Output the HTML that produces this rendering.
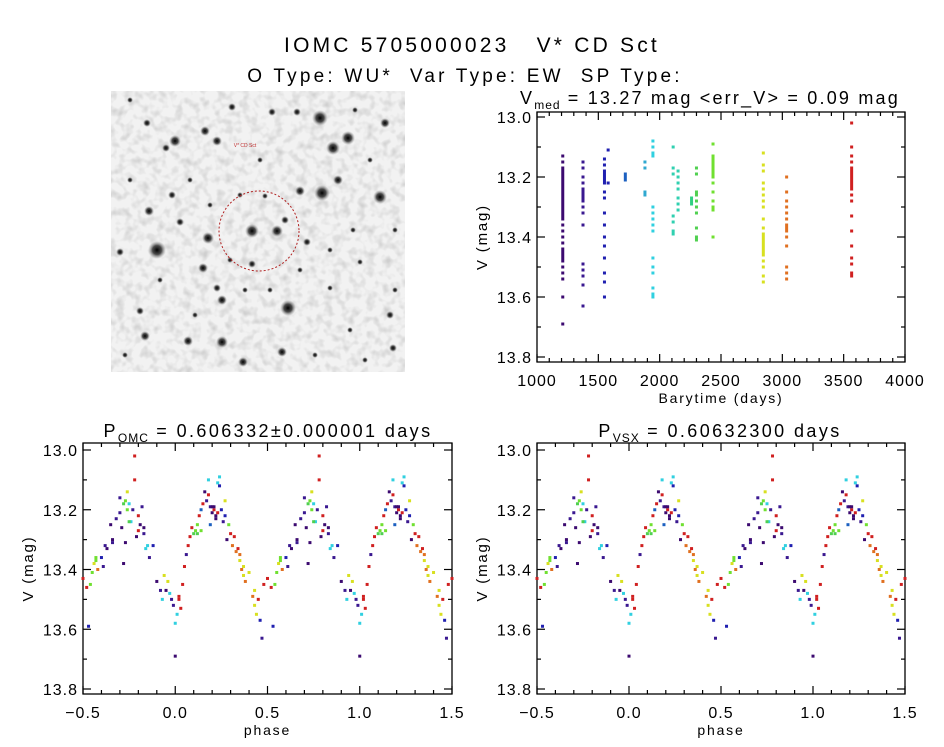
<!DOCTYPE html>
<html><head><meta charset="utf-8"><style>
html,body{margin:0;padding:0;background:#fff;}
svg{display:block;font-family:"Liberation Sans",sans-serif;}
</style></head><body>
<svg id="fig" width="944" height="747" viewBox="0 0 944 747">
<text x="472" y="52" text-anchor="middle" font-size="21" letter-spacing="3.2" xml:space="preserve">IOMC 5705000023   V* CD Sct</text>
<text x="465" y="82" text-anchor="middle" font-size="19" letter-spacing="3.2" xml:space="preserve">O Type: WU*  Var Type: EW  SP Type:</text>
<g id="sky"></g>
<g id="p1"></g>
<g id="p2"></g>
<g id="p3"></g>
</svg>
<script>
// ---- data ----
const seasonColors = ["#3c0a70","#3a1890","#2020b0","#1c60c0","#30a8d0","#30d0e0","#30d0b0","#30d080","#50d050","#70e030","#d8e020","#e07020","#d02020"];
const seasonTimes = [1210,1375,1550,1580,1720,1880,1945,2110,2150,2260,2300,2435,2845,3035,3565];
const seasonColorIdx = [0,1,2,2,3,4,5,6,6,7,8,9,10,11,12];
const seasonMags = [
 [13.13,13.15,13.17,13.18,13.19,13.20,13.21,13.22,13.23,13.24,13.25,13.26,13.27,13.28,13.29,13.30,13.31,13.32,13.33,13.34,13.36,13.38,13.40,13.42,13.44,13.45,13.46,13.47,13.48,13.50,13.52,13.54,13.60,13.69],
 [13.15,13.17,13.20,13.22,13.24,13.25,13.26,13.27,13.28,13.30,13.32,13.36,13.49,13.51,13.53,13.56,13.63],
 [13.14,13.16,13.18,13.19,13.20,13.21,13.22,13.25,13.27,13.32,13.36,13.40,13.43,13.47,13.52,13.55,13.60],
 [13.11,13.22],
 [13.19,13.20,13.21],
 [13.15,13.17,13.25,13.26],
 [13.08,13.10,13.12,13.13,13.30,13.32,13.34,13.36,13.38,13.47,13.50,13.52,13.57,13.59,13.60],
 [13.10,13.17,13.19,13.33,13.35,13.38,13.39],
 [13.18,13.20,13.22,13.24,13.27,13.29,13.31],
 [13.27,13.28,13.29],
 [13.17,13.19,13.25,13.26,13.28,13.30,13.32,13.37,13.40,13.41],
 [13.09,13.13,13.14,13.15,13.16,13.17,13.18,13.19,13.20,13.22,13.25,13.28,13.30,13.31,13.40],
 [13.12,13.16,13.18,13.22,13.24,13.26,13.28,13.30,13.34,13.37,13.39,13.40,13.41,13.42,13.43,13.44,13.45,13.46,13.48,13.50,13.53,13.55],
 [13.20,13.25,13.28,13.30,13.32,13.34,13.36,13.37,13.38,13.40,13.43,13.50,13.52,13.54],
 [13.02,13.10,13.13,13.15,13.17,13.18,13.19,13.20,13.21,13.22,13.23,13.24,13.26,13.28,13.33,13.38,13.43,13.47,13.49,13.52,13.53]
];
const phases = [0.00,0.01,0.02,0.03,0.00,0.98,0.97,0.96,0.95,0.99,0.02,0.04,0.05,0.06,0.07,0.08,0.09,0.10,0.11,0.12,0.13,0.14,0.15,0.16,0.17,0.18,0.19,0.20,0.21,0.22,0.23,0.24,0.25,0.26,0.27,0.28,0.29,0.30,0.31,0.32,0.33,0.34,0.35,0.36,0.37,0.38,0.40,0.42,0.43,0.44,0.45,0.46,0.47,0.48,0.50,0.52,0.53,0.54,0.55,0.56,0.57,0.58,0.60,0.62,0.63,0.65,0.66,0.68,0.70,0.71,0.72,0.73,0.74,0.75,0.76,0.77,0.78,0.78,0.79,0.80,0.81,0.82,0.83,0.84,0.85,0.86,0.88,0.90,0.92,0.93,0.94,0.61,0.27,0.21,0.19,0.73,0.72,0.75,0.83,0.18,0.22,0.24,0.14,0.12,0.70,0.74,0.80,0.35,0.37,0.43,0.57,0.66,0.20,0.23];
const phaseMags = [13.58,13.55,13.50,13.53,13.69,13.50,13.48,13.44,13.47,13.52,13.49,13.45,13.39,13.35,13.32,13.29,13.26,13.28,13.27,13.25,13.22,13.20,13.18,13.14,13.17,13.10,13.19,13.21,13.20,13.22,13.11,13.09,13.20,13.24,13.17,13.30,13.25,13.28,13.32,13.29,13.34,13.33,13.37,13.40,13.42,13.44,13.41,13.49,13.52,13.55,13.50,13.57,13.63,13.45,13.43,13.46,13.59,13.45,13.41,13.38,13.37,13.40,13.36,13.32,13.33,13.25,13.30,13.23,13.16,13.26,13.18,13.17,13.14,13.18,13.24,13.20,13.02,13.10,13.29,13.22,13.25,13.19,13.28,13.33,13.32,13.36,13.32,13.44,13.47,13.50,13.42,13.39,13.22,13.19,13.25,13.31,13.38,13.24,13.26,13.15,13.23,13.12,13.27,13.28,13.21,13.20,13.27,13.35,13.39,13.47,13.36,13.31,13.19,13.21];
const phaseColorIdx = [5,5,12,12,0,1,5,10,0,1,12,12,12,1,12,12,12,8,9,9,12,3,12,0,1,5,1,0,12,0,5,5,2,1,10,0,9,12,11,12,11,12,10,11,10,11,10,11,10,10,12,2,1,12,12,12,2,9,9,10,9,11,2,1,0,0,0,1,1,0,8,9,10,5,5,1,12,12,0,12,0,1,1,5,5,1,2,0,1,5,10,1,2,0,3,0,0,8,0,12,0,2,9,8,1,9,12,11,10,10,9,1,0,12];
const yTicks = ["13.0","13.2","13.4","13.6","13.8"];
const timeTicks = ["1000","1500","2000","2500","3000","3500","4000"];
const phaseTicks = ["\u22120.5","0.0","0.5","1.0","1.5"];

// ---- helpers ----
const NS="http://www.w3.org/2000/svg";
function mk(parent,tag,attrs){const e=document.createElementNS(NS,tag);for(const k in attrs)e.setAttribute(k,attrs[k]);parent.appendChild(e);return e;}
function makeAxes(g,box,xmin,xmax,ymin,ymax,xLabels,xMinorStep,xTitle){
  const sx=v=>box.x0+(v-xmin)/(xmax-xmin)*(box.x1-box.x0);
  const sy=v=>box.y0+(v-ymin)/(ymax-ymin)*(box.y1-box.y0);
  const f=mk(g,"rect",{x:box.fx0,y:box.fy0,width:box.fx1-box.fx0,height:box.fy1-box.fy0,fill:"none",stroke:"#000","stroke-width":1.3});
  
  
  for(let v=ymin;v<=ymax+1e-9;v+=0.1){
    const y=sy(v);const major=Math.round(v*10)%2===0;const L=major?8:4;
    mk(g,"line",{x1:box.fx0,x2:box.fx0+L,y1:y,y2:y,stroke:"#000","stroke-width":1.2});
    mk(g,"line",{x1:box.fx1,x2:box.fx1-L,y1:y,y2:y,stroke:"#000","stroke-width":1.2});
  }
  yTicks.forEach((t,i)=>{const v=ymin+0.2*i;
    const tx=mk(g,"text",{x:box.fx0-5,y:sy(v)+6,"text-anchor":"end","font-size":16,"letter-spacing":1});tx.textContent=t;
    
    });
  const n=xLabels.length;const step=(xmax-xmin)/(n-1);
  for(let v=xmin;v<=xmax+1e-9;v+=xMinorStep){
    const x=sx(v);const r=(v-xmin)/step;const major=Math.abs(r-Math.round(r))<1e-6;const L=major?8:4;
    mk(g,"line",{x1:x,x2:x,y1:box.fy1,y2:box.fy1-L,stroke:"#000","stroke-width":1.2});
    mk(g,"line",{x1:x,x2:x,y1:box.fy0,y2:box.fy0+L,stroke:"#000","stroke-width":1.2});
  }
  xLabels.forEach((t,i)=>{const tx=mk(g,"text",{x:sx(xmin+step*i),y:box.fy1+24,"text-anchor":"middle","font-size":16,"letter-spacing":1});tx.textContent=t;
    
    });
  const xt=mk(g,"text",{x:(box.fx0+box.fx1)/2,y:box.fy1+41,"text-anchor":"middle","font-size":14,"letter-spacing":1.8});xt.textContent=xTitle;
  
  
  const yx=box.fx0-50, yy=(box.fy0+box.fy1)/2;
  const yt=mk(g,"text",{x:yx,y:yy,"text-anchor":"middle","font-size":15,"letter-spacing":1.8,transform:`rotate(-90 ${yx} ${yy})`});yt.textContent="V (mag)";
  
  
  return {sx,sy};
}
function dot(g,x,y,c){const r=mk(g,"rect",{x:x-1.5,y:y-1.5,width:3,height:3,fill:c});
  
  }
function title(g,x,y,main,sub,rest,ls){
  const t=mk(g,"text",{x:x,y:y,"text-anchor":"middle","font-size":18,"letter-spacing":ls});
  
  
  const a=mk(t,"tspan",{});a.textContent=main;
  const b=mk(t,"tspan",{dy:5,"font-size":12,"letter-spacing":1});b.textContent=sub;
  const c=mk(t,"tspan",{dy:-5});c.textContent=rest;
}

// ---- top-right: V vs time ----
(function(){
  const g=document.getElementById('p1');
  title(g,710,104,"V","med"," = 13.27 mag <err_V> = 0.09 mag",2.2);
  const ax=makeAxes(g,{x0:537,x1:905,y0:117,y1:357,fx0:537,fx1:905,fy0:112,fy1:362},1000,4000,13.0,13.8,timeTicks,100,"Barytime (days)");
  seasonTimes.forEach((t,i)=>{seasonMags[i].forEach(m=>dot(g,ax.sx(t),ax.sy(m),seasonColors[seasonColorIdx[i]]));});
})();
// ---- bottom phase panels ----
function phasePanel(id,x0,x1,tx,main,sub,rest){
  const g=document.getElementById(id);
  title(g,tx,437,main,sub,rest,2.4);
  const ax=makeAxes(g,{x0:x0,x1:x1,y0:450,y1:689,fx0:x0,fx1:x1,fy0:443,fy1:694},-0.5,1.5,13.0,13.8,phaseTicks,0.1,"phase");
  phases.forEach((p,i)=>{
    [p-1,p,p+1].forEach(q=>{if(q>=-0.5&&q<=1.5)dot(g,ax.sx(q),ax.sy(phaseMags[i]),seasonColors[phaseColorIdx[i]]);});
  });
}
phasePanel('p2',83,452,268,"P","OMC"," = 0.606332\u00b10.000001 days");
phasePanel('p3',537,905,720,"P","VSX"," = 0.60632300 days");

// ---- sky image (decorative) ----
(function(){
  const g=document.getElementById('sky');
  const defs=mk(g,"defs",{});
  const rg=mk(defs,"radialGradient",{id:"star"});
  mk(rg,"stop",{offset:"0","stop-color":"#000","stop-opacity":"1"});
  mk(rg,"stop",{offset:"0.5","stop-color":"#222","stop-opacity":"0.8"});
  mk(rg,"stop",{offset:"1","stop-color":"#888","stop-opacity":"0"});
  const flt=mk(defs,"filter",{id:"noise",x:"0",y:"0",width:"100%",height:"100%"});
  mk(flt,"feTurbulence",{type:"fractalNoise",baseFrequency:"0.12",numOctaves:"2",seed:"3",result:"t"});
  mk(flt,"feColorMatrix",{type:"matrix",values:"0 0 0 0 0  0 0 0 0 0  0 0 0 0 0  0 0 0 -2.2 1.25",in:"t"});
  const bg=mk(g,"rect",{x:111,y:91,width:294,height:281,fill:"#f2f2f2"});
  
  
  const nz=mk(g,"rect",{x:111,y:91,width:294,height:281,filter:"url(#noise)",opacity:"0.14"});
  
  
  const stars=[[320,118,8],[348,138,7],[333,148,7],[322,193,8],[380,197,7],[252,231,7],[277,231,6],[157,250,9],[288,308,8],[208,238,6],[175,141,6],[385,123,5],[205,131,5],[217,141,5],[338,180,5],[149,211,5],[222,300,5],[222,342,6],[282,352,5],[145,336,5],[188,341,5],[243,362,5],[300,191,5],[172,195,4],[203,268,5],[390,315,4],[140,311,4],[217,288,4],[297,112,4],[232,107,4],[272,112,4],[147,123,4],[180,222,4],[120,252,4],[307,242,4],[285,220,4],[252,264,4],[393,348,4],[166,148,4],[353,230,3],[360,262,3],[330,250,3],[245,290,3],[130,180,3],[260,160,3],[190,180,3],[240,195,3],[300,270,3],[350,330,3],[395,290,3],[160,280,3],[125,355,3],[315,355,3],[370,160,3],[395,230,3],[230,260,3],[265,196,3],[195,315,3],[365,360,3],[130,100,3],[210,205,3],[270,290,3],[330,288,3],[355,110,3]];
  stars.forEach(s=>{const c=mk(g,"circle",{cx:s[0],cy:s[1],r:s[2],fill:"url(#star)"});
    
    });
  const circ=mk(g,"circle",{cx:259,cy:231,r:40,fill:"none",stroke:"#b02020","stroke-width":1,"stroke-dasharray":"2 2"});
  
  
  const lab=mk(g,"text",{x:245,y:147,"font-size":5,fill:"#c03030","text-anchor":"middle"});lab.textContent="V* CD Sct";
  
  
})();
</script>
</body></html>
